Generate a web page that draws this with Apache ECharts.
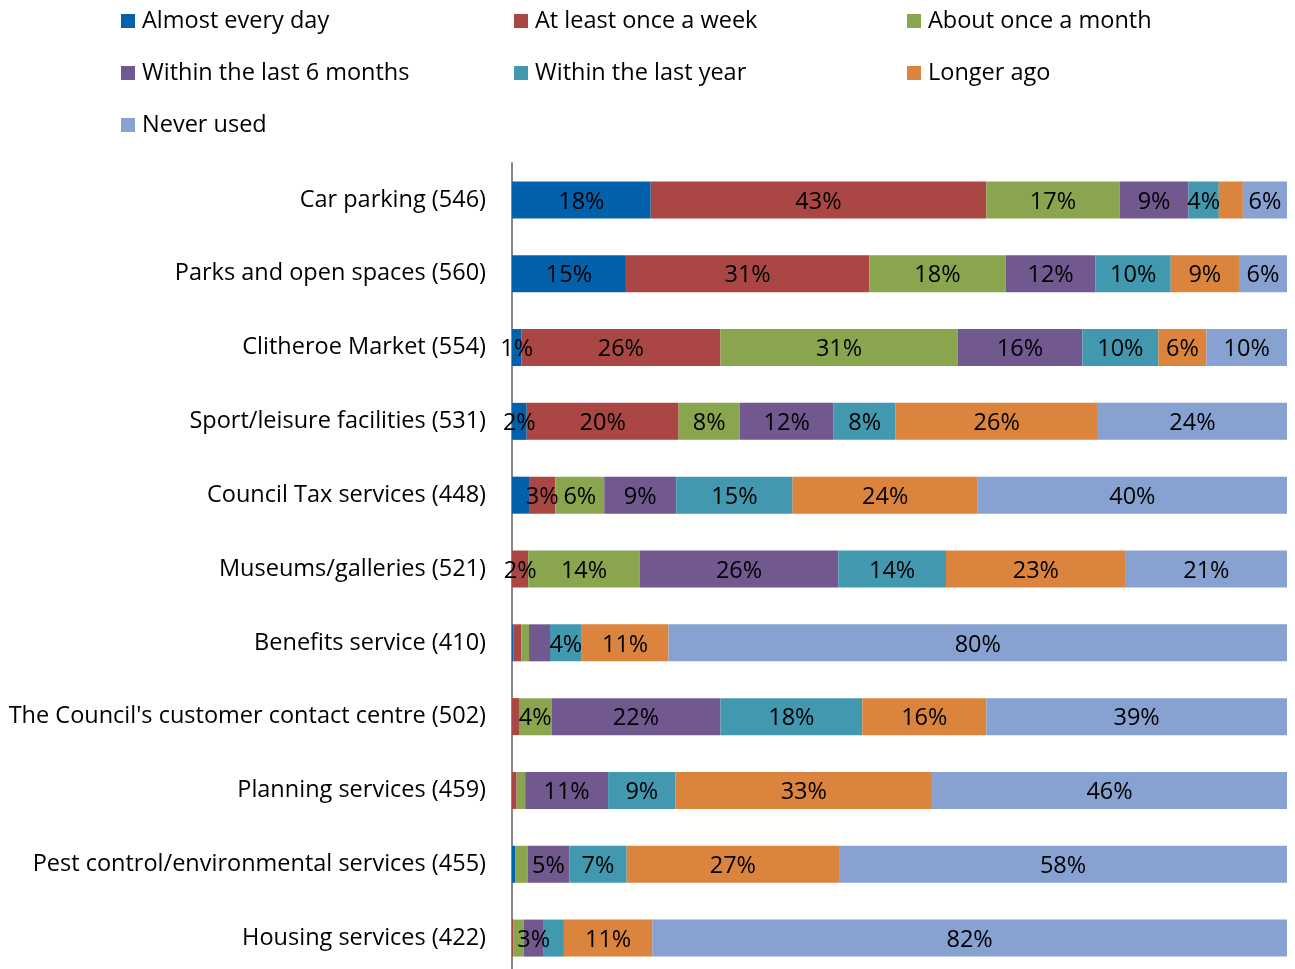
<!DOCTYPE html>
<html>
<head>
<meta charset="utf-8">
<script src="https://cdn.jsdelivr.net/npm/echarts@6/dist/echarts.min.js"></script>
<style>
  html, body { margin: 0; padding: 0; background: #fff; }
  #chart { width: 1295px; height: 969px; }
</style>
</head>
<body>
<div id="chart"></div>
<script>
// services, top to bottom
const categories = [
  "Car parking (546)",
  "Parks and open spaces (560)",
  "Clitheroe Market (554)",
  "Sport/leisure facilities (531)",
  "Council Tax services (448)",
  "Museums/galleries (521)",
  "Benefits service (410)",
  "The Council's customer contact centre (502)",
  "Planning services (459)",
  "Pest control/environmental services (455)",
  "Housing services (422)"
];

const seriesNames = [
  "Almost every day", "At least once a week", "About once a month",
  "Within the last 6 months", "Within the last year", "Longer ago", "Never used"
];

// percentages per series, one value per service (same order as categories)
const almostEveryDay = [17.9, 14.7, 1.2, 1.9, 2.2, 0, 0.2, 0, 0, 0.4, 0];
const onceAWeek      = [43.3, 31.4, 25.7, 19.6, 3.4, 2.1, 1.0, 0.9, 0.6, 0, 0.2];
const onceAMonth     = [17.2, 17.6, 30.6, 7.9, 6.3, 14.4, 1.0, 4.2, 1.1, 1.6, 1.3];
const last6Months    = [8.9, 11.6, 16.1, 12.1, 9.3, 25.6, 2.7, 21.8, 10.7, 5.4, 2.6];
const lastYear       = [3.9, 9.7, 9.8, 8.0, 15.0, 13.9, 4.1, 18.3, 8.7, 7.4, 2.6];
const longerAgo      = [3.1, 8.8, 6.2, 26.1, 23.9, 23.2, 11.2, 16.0, 33.1, 27.4, 11.4];
const neverUsed      = [5.7, 6.2, 10.4, 24.4, 39.9, 20.8, 79.8, 38.8, 45.8, 57.8, 81.9];

// data labels that were left off in the original: [series index, row index]
const hiddenLabels = [
  [5, 0], [0, 4], [0, 6], [1, 6], [2, 6], [3, 6], [1, 7],
  [1, 8], [2, 8], [0, 9], [2, 9], [1, 10], [2, 10], [4, 10]
];

const colors = ["#0261AA", "#AA4644", "#89A54E", "#71588F", "#4198AF", "#DB843D", "#87A1D1"];
const allValues = [almostEveryDay, onceAWeek, onceAMonth, last6Months, lastYear, longerAgo, neverUsed];
const FONT = "'Open Sans', 'Liberation Sans', sans-serif";
const FONT_SIZE = 23.5;

function isHidden(s, r) {
  return allValues[s][r] === 0 || hiddenLabels.some(h => h[0] === s && h[1] === r);
}

const series = seriesNames.map((name, s) => ({
  name: name,
  type: "bar",
  stack: "total",
  barWidth: 37,
  itemStyle: { color: colors[s] },
  label: {
    show: true,
    position: "inside",
    offset: [0, 2],
    color: "#000",
    fontSize: FONT_SIZE,
    fontFamily: FONT,
    formatter: p => Math.round(p.value) + "%"
  },
  data: allValues[s].map((v, r) => isHidden(s, r) ? { value: v, label: { show: false } } : v)
}));

function legendCol(left, names) {
  return {
    orient: "vertical",
    left: left,
    top: 6,
    padding: 0,
    itemWidth: 14,
    itemHeight: 14,
    itemGap: 22,
    icon: "rect",
    selectedMode: false,
    textStyle: { fontSize: FONT_SIZE, fontFamily: FONT, color: "#000", lineHeight: 30, padding: [0, 0, 0, 2] },
    data: names
  };
}

let myChart = echarts.init(document.getElementById("chart"), null, { renderer: "canvas" });
myChart.setOption({
  animation: false,
  color: colors,
  legend: [
    legendCol(121, [seriesNames[0], seriesNames[3], seriesNames[6]]),
    legendCol(514, [seriesNames[1], seriesNames[4]]),
    legendCol(907, [seriesNames[2], seriesNames[5]])
  ],
  grid: { left: 512, top: 163, width: 775, height: 812, outerBoundsMode: "none" },
  xAxis: { type: "value", min: 0, max: 100, show: false },
  yAxis: {
    type: "category",
    inverse: true,
    data: categories,
    axisTick: { show: false },
    axisLine: { show: true, lineStyle: { color: "#888", width: 2 } },
    axisLabel: { fontSize: FONT_SIZE, fontFamily: FONT, color: "#000", margin: 26, padding: [4, 0, 0, 0] }
  },
  series: series
});
</script>
</body>
</html>
